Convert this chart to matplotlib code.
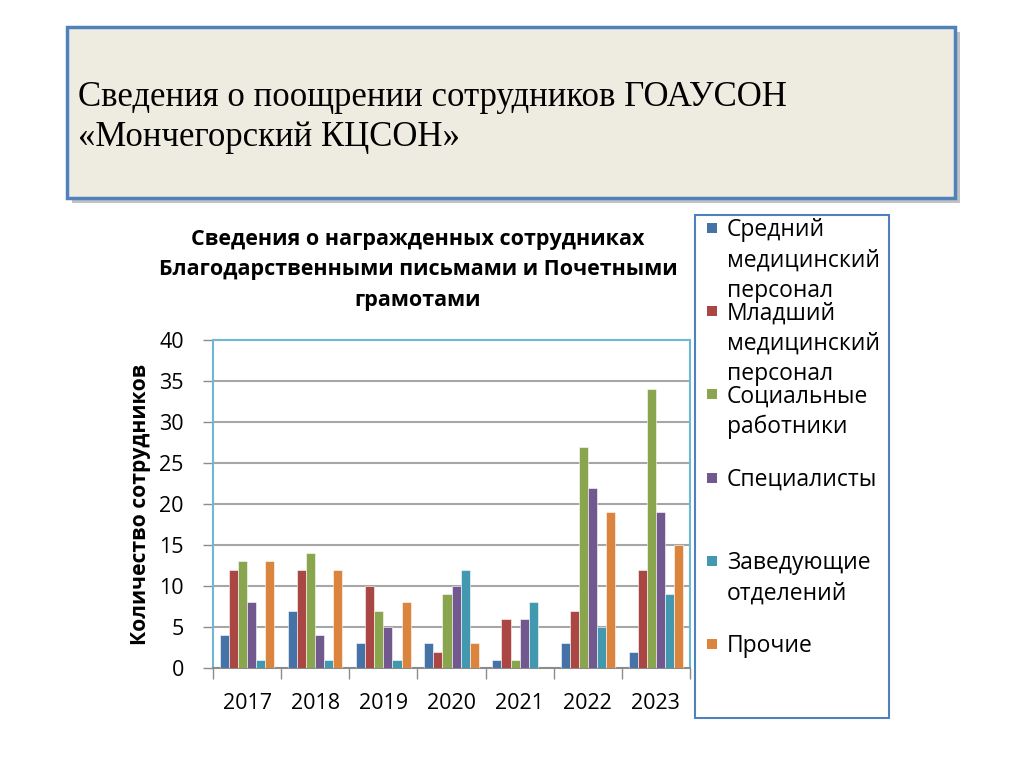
import matplotlib
matplotlib.use("Agg")
import matplotlib.pyplot as plt
import numpy as np
from matplotlib.patches import Rectangle
from matplotlib.ticker import MultipleLocator, FixedLocator

years = ["2017", "2018", "2019", "2020", "2021", "2022", "2023"]
series_names = ["Средний\nмедицинский\nперсонал",
                "Младший\nмедицинский\nперсонал",
                "Социальные\nработники",
                "Специалисты",
                "Заведующие\nотделений",
                "Прочие"]
sredniy = [4, 7, 3, 3, 1, 3, 2]
mladshiy = [12, 12, 10, 2, 6, 7, 12]
socialnye = [13, 14, 7, 9, 1, 27, 34]
specialisty = [8, 4, 5, 10, 6, 22, 19]
zaveduyushchie = [1, 1, 1, 12, 8, 5, 9]
prochie = [13, 12, 8, 3, 0, 19, 15]
series_values = [sredniy, mladshiy, socialnye, specialisty, zaveduyushchie, prochie]
colors = ["#4572A7", "#AA4643", "#89A54E", "#71588F", "#4198AF", "#DB843D"]

W, H = 1024, 777
fig = plt.figure(figsize=(W / 100, H / 100), dpi=100)
fig.patch.set_facecolor("white")

def fx(px):
    return px / W

def fy(py):
    return 1 - py / H

# Title box with shadow
bx0, by0, bx1, by1 = 67, 27, 955, 198
shadow = Rectangle((fx(bx0 + 5), fy(by1 + 5)), fx(bx1 - bx0), fy(by0) - fy(by1),
                   transform=fig.transFigure, facecolor="#9a9a9a", edgecolor="none",
                   alpha=0.6, zorder=0)
fig.patches.append(shadow)
box = Rectangle((fx(bx0), fy(by1)), fx(bx1 - bx0), fy(by0) - fy(by1),
                transform=fig.transFigure, facecolor="#EEEBE0", edgecolor="#4F81BD",
                linewidth=2.5, zorder=1)
fig.patches.append(box)
fig.text(fx(78), fy(97), "Сведения о поощрении сотрудников ГОАУСОН",
         family="Liberation Serif", fontsize=25, va="center", ha="left", zorder=2)
fig.text(fx(78), fy(137), "«Мончегорский КЦСОН»",
         family="Liberation Serif", fontsize=25, va="center", ha="left", zorder=2)

# Chart axes
ax = fig.add_axes([fx(213), fy(668), fx(690 - 213), fy(340) - fy(668)])
n = len(series_values)
x = np.arange(len(years))
bw = 0.8 / n
for i, (vals, c) in enumerate(zip(series_values, colors)):
    ax.bar(x - 0.4 + bw * (i + 0.5), vals, width=bw, color=c,
           edgecolor="white", linewidth=0.4, zorder=3)

ax.set_xlim(-0.5, len(years) - 0.5)
ax.set_ylim(0, 40)
ax.yaxis.set_major_locator(MultipleLocator(5))
ax.grid(axis="y", color="#A6A6A6", linewidth=1.5, zorder=0)
ax.set_axisbelow(True)
ax.set_xticks(x)
ax.set_xticklabels(years, family="Open Sans", fontsize=15.5)
ax.tick_params(axis="x", which="major", length=0, pad=18)
ax.xaxis.set_minor_locator(FixedLocator(np.arange(len(years) + 1) - 0.5))
ax.tick_params(axis="x", which="minor", length=8, color="#8C8C8C", width=1)
ax.tick_params(axis="y", length=7, color="#8C8C8C", width=1, pad=14)
for lab in ax.get_yticklabels():
    lab.set_family("Open Sans")
    lab.set_fontsize(15.5)
for s in ["top", "right", "left"]:
    ax.spines[s].set_color("#6FB7D2")
    ax.spines[s].set_linewidth(1.5)
ax.spines["bottom"].set_color("#8C8C8C")
ax.spines["bottom"].set_linewidth(1.5)
ax.set_ylabel("Количество сотрудников", family="Open Sans", fontsize=15.2,
              fontweight="bold", labelpad=6)

fig.text(fx(418), fy(270),
         "Сведения о награжденных сотрудниках\nБлагодарственными письмами и Почетными\nграмотами",
         family="Open Sans", fontsize=15.5, fontweight="bold", ha="center", va="center",
         linespacing=1.6)

# Legend box
lx0, ly0, lx1, ly1 = 695, 215, 889, 718
lbox = Rectangle((fx(lx0), fy(ly1)), fx(lx1 - lx0), fy(ly0) - fy(ly1),
                 transform=fig.transFigure, facecolor="white", edgecolor="#4F81BD",
                 linewidth=1.5, zorder=1)
fig.patches.append(lbox)
step = 83.2
for i, (name, c) in enumerate(zip(series_names, colors)):
    yc = 228 + i * step
    fig.patches.append(Rectangle((fx(707), fy(yc + 5)), fx(10), fy(yc - 5) - fy(yc + 5),
                                 transform=fig.transFigure, facecolor=c,
                                 edgecolor="none", zorder=2))
    fig.text(fx(727), fy(yc - 10), name, family="Open Sans", fontsize=16.5,
             ha="left", va="top", linespacing=1.36, zorder=3)

fig.savefig("out.png", dpi=100)
